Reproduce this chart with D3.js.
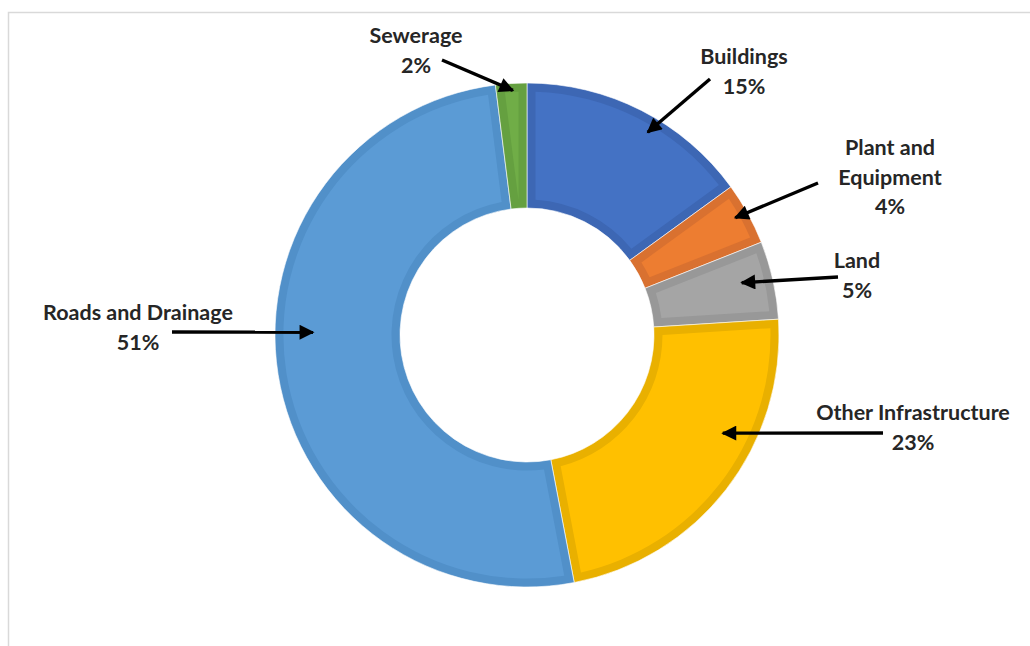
<!DOCTYPE html>
<html>
<head>
<meta charset="utf-8">
<script src="https://cdn.jsdelivr.net/npm/d3@7"></script>
<style>
  html, body { margin: 0; padding: 0; background: #fff; }
  svg { display: block; }
  text { font-family: Lato, "Open Sans", sans-serif; font-weight: 700; fill: #262626; }
</style>
</head>
<body>
<svg id="chart" width="1030" height="646"></svg>
<script>
// ---- data ----
const categories = ["Buildings", "Plant and Equipment", "Land", "Other Infrastructure", "Roads and Drainage", "Sewerage"];
const values = [15, 4, 5, 23, 51, 2];
const labelLines = [["Buildings"], ["Plant and", "Equipment"], ["Land"], ["Other Infrastructure"], ["Roads and Drainage"], ["Sewerage"]];
const fills = ["#4472C4", "#ED7D31", "#A5A5A5", "#FFC000", "#5B9BD5", "#70AD47"];
const borders = ["#3D67B4", "#D97130", "#989898", "#E9B000", "#5190C9", "#65A040"];

// ---- annotation layout (label centre / first baseline, arrow tail, arrow tip in slice-relative polar terms) ----
const labelPos = [[744, 64], [890, 155], [857, 268], [913, 420], [138, 320], [416, 43]];
const arrowTail = [[710, 79], [818, 183], [838, 277], [883, 433], [172, 332], [442, 60]];
const tipFrac = [0.57, 0.46, 0.44, 0.365, 0.553, 0.54];
const tipRadius = [236, 239, 221, 219, 214, 245];

const svg = d3.select("#chart");
const cx = 527, cy = 335, rOuter = 252, rInner = 127, border = 8.5;

// frame
svg.append("rect").attr("x", 8.5).attr("y", 12.5).attr("width", 1040).attr("height", 650)
  .attr("fill", "none").attr("stroke", "#d9d9d9").attr("stroke-width", 1.5);

const pie = d3.pie().value(d => d).sort(null).startAngle(0).endAngle(2 * Math.PI);
const arcs = pie(values);

const outerArc = d3.arc().innerRadius(rInner).outerRadius(rOuter);
const padR = 200;
const innerArc = d3.arc().innerRadius(rInner + border).outerRadius(rOuter - border)
  .padRadius(padR).padAngle(2 * border / padR);

const g = svg.append("g").attr("transform", `translate(${cx},${cy})`);
const slices = g.selectAll("g.slice").data(arcs).join("g").attr("class", "slice");
slices.append("path").attr("d", outerArc).attr("fill", (d, i) => borders[i])
  .attr("stroke", "#fff").attr("stroke-width", 0.6);
slices.append("path").attr("d", innerArc).attr("fill", (d, i) => fills[i]);

// arrowheads
const defs = svg.append("defs");
defs.append("marker").attr("id", "ah").attr("viewBox", "0 0 10 10")
  .attr("refX", 9).attr("refY", 5).attr("markerWidth", 5).attr("markerHeight", 4.4)
  .attr("markerUnits", "strokeWidth").attr("orient", "auto")
  .append("path").attr("d", "M0,0 L10,5 L0,10 Z").attr("fill", "#000");

arcs.forEach((d, i) => {
  const a = d.startAngle + tipFrac[i] * (d.endAngle - d.startAngle);
  const tx = cx + tipRadius[i] * Math.sin(a);
  const ty = cy - tipRadius[i] * Math.cos(a);
  const [sx, sy] = arrowTail[i];
  svg.append("line").attr("x1", sx).attr("y1", sy).attr("x2", tx).attr("y2", ty)
    .attr("stroke", "#000").attr("stroke-width", 3.4).attr("marker-end", "url(#ah)");

  const lines = labelLines[i].concat([values[i] + "%"]);
  const t = svg.append("text").attr("text-anchor", "middle").attr("font-size", 21.5);
  lines.forEach((ln, k) => {
    t.append("tspan").attr("x", labelPos[i][0]).attr("y", labelPos[i][1] + k * 29.5).text(ln);
  });
});
</script>
</body>
</html>
